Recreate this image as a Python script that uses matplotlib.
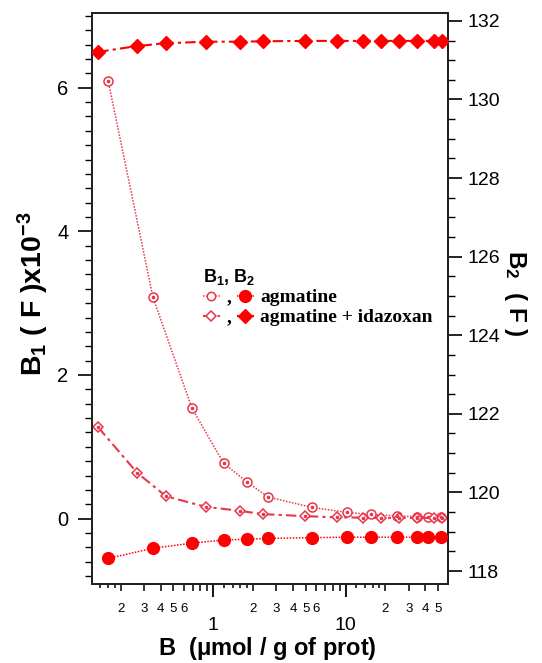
import math
import matplotlib
matplotlib.use("Agg")
import matplotlib.pyplot as plt
from matplotlib.ticker import FixedLocator, FuncFormatter, MultipleLocator
from matplotlib.lines import Line2D
from matplotlib.font_manager import FontProperties

# ---------------- data ----------------
x_agm = [0.16, 0.35, 0.69, 1.2, 1.8, 2.6, 5.6, 10.3, 15.7, 24.3, 34.5, 42.3, 52.4]
b1_agm = [6.10, 3.08, 1.535, 0.77, 0.51, 0.30, 0.156, 0.086, 0.058, 0.040, 0.025, 0.020, 0.017]
b2_agm = [118.32, 118.58, 118.71, 118.79, 118.81, 118.83, 118.85, 118.86, 118.86,
          118.86, 118.86, 118.86, 118.86]

x_ida = [0.135, 0.265, 0.44, 0.88, 1.58, 2.36, 4.9, 8.65, 13.5, 18.4, 25.4, 34.9, 46.7, 54.0]
b1_ida = [1.27, 0.64, 0.31, 0.164, 0.109, 0.063, 0.035, 0.017, 0.015, 0.012, 0.010,
          0.010, 0.010, 0.010]
b2_ida = [131.21, 131.36, 131.43, 131.47, 131.47, 131.48, 131.49, 131.49, 131.49,
          131.49, 131.49, 131.49, 131.49, 131.49]

x_major = [1, 10]
x_minor_labelled = [0.2, 0.3, 0.4, 0.5, 0.6, 2, 3, 4, 5, 6, 20, 30, 40, 50]
x_minor = [0.2, 0.3, 0.4, 0.5, 0.6, 0.7, 0.8, 0.9, 2, 3, 4, 5, 6, 7, 8, 9, 20, 30, 40, 50]
x_subminor = [0.14, 0.16, 0.18, 1.2, 1.4, 1.6, 1.8, 12, 14, 16, 18]

label_agm = "agmatine"
label_ida = "agmatine + idazoxan"

# ---------------- style ----------------
sans = "Liberation Sans"
plt.rcParams["font.family"] = [sans, "DejaVu Sans"]
plt.rcParams["mathtext.fontset"] = "custom"
plt.rcParams["mathtext.rm"] = sans
plt.rcParams["mathtext.bf"] = sans + ":bold"
plt.rcParams["mathtext.it"] = sans + ":italic"

RED = "#ff0000"
OPEN = "#e8364a"
dotted = (0, (1.0, 1.0))
dashdot = (0, (5, 2, 1.5, 2))

fig = plt.figure(figsize=(5.42, 6.63), dpi=100)
W, H = 542, 663
L, R, T, B = 92, 448, 13, 584
ax = fig.add_axes([L / W, 1 - B / H, (R - L) / W, (B - T) / H])
ax2 = ax.twinx()

# B1 (left axis)
ax.plot(x_agm, b1_agm, linestyle=dotted, lw=1.1, color=OPEN, marker="o", ms=6.5,
        mfc="white", mec=OPEN, mew=1.1, zorder=3)
ax.plot(x_agm, b1_agm, linestyle="none", marker="o", ms=1.6, color=OPEN, zorder=4)
ax.plot(x_ida, b1_ida, linestyle=dashdot, lw=1.5, color=OPEN, marker="D", ms=5.5,
        mfc="white", mec=OPEN, mew=1.1, zorder=3)
ax.plot(x_ida, b1_ida, linestyle="none", marker="o", ms=1.6, color=OPEN, zorder=4)

# B2 (right axis)
ax2.plot(x_agm, b2_agm, linestyle=dotted, lw=1.1, color=RED, marker="o", ms=8.5,
         mfc=RED, mec=RED, zorder=3)
ax2.plot(x_ida, b2_ida, linestyle=dashdot, lw=1.5, color=RED, marker="D", ms=7,
         mfc=RED, mec=RED, zorder=3)

# ---------------- axes ----------------
ax.set_xscale("log")
ax.set_xlim(0.121, 59.5)
ax.set_ylim(-0.91, 7.04)
ax2.set_ylim(117.67, 132.2)

for a in (ax, ax2):
    for s in a.spines.values():
        s.set_linewidth(1.4)
        s.set_color("#222222")


def minor_fmt(v, p):
    if any(abs(v - m) < 1e-9 for m in x_minor_labelled):
        return "%d" % round(v / 10 ** math.floor(math.log10(v) + 1e-9))
    return ""


ax.xaxis.set_major_locator(FixedLocator(x_major))
ax.xaxis.set_major_formatter(FuncFormatter(lambda v, p: "%g" % v))
ax.xaxis.set_minor_locator(FixedLocator(x_minor + x_subminor))
ax.xaxis.set_minor_formatter(FuncFormatter(minor_fmt))

ax.yaxis.set_major_locator(FixedLocator([0, 2, 4, 6]))
ax.yaxis.set_minor_locator(MultipleLocator(0.2))
ax2.yaxis.set_major_locator(MultipleLocator(2))
ax2.yaxis.set_minor_locator(MultipleLocator(0.5))

ax.tick_params(axis="x", which="major", direction="out", length=9, width=1.3,
               labelsize=14, pad=15, top=False)
ax.tick_params(axis="x", which="minor", direction="out", length=5, width=1.1,
               labelsize=9.5, pad=9, top=False)
ax.tick_params(axis="y", which="major", direction="out", length=10, width=1.2,
               labelsize=14.5, pad=7, right=False)
ax.tick_params(axis="y", which="minor", direction="out", length=5, width=1.0, right=False)
ax2.tick_params(axis="y", which="major", direction="out", length=10, width=1.2,
                labelsize=14, pad=4)
ax2.tick_params(axis="y", which="minor", direction="out", length=5, width=1.0)

fig.canvas.draw()
for t, loc in zip(ax.xaxis.get_minor_ticks(), ax.xaxis.get_minorticklocs()):
    if any(abs(loc - s) < 1e-9 for s in x_subminor):
        t.tick1line.set_markersize(3)

# labels
ax.set_xlabel(r"$\mathbf{B}$  ($\mathbf{\mu}$mol / g of prot)", fontsize=17,
              fontweight="bold", va="center")
ax.xaxis.set_label_coords(0.494, -0.113)
ax.set_ylabel(r"$\mathbf{B_{1}}$ ( F )x10$^{\mathbf{-3}}$", fontsize=20.5,
              fontweight="bold", va="center")
ax.yaxis.set_label_coords(-0.166, 0.508)
ax2.set_ylabel(r"$\mathbf{B_{2}}$  ( F )", fontsize=17.5, fontweight="bold",
               rotation=270, va="center")
ax2.yaxis.set_label_coords(1.19, 0.51)

# ---------------- legend ----------------
h_open_c = Line2D([], [], linestyle=dotted, lw=1.1, color=OPEN, marker="o", ms=6,
                  mfc="white", mec=OPEN, mew=1.1)
h_open_d = Line2D([], [], linestyle=dashdot, lw=1.5, color=OPEN, marker="D", ms=5.5,
                  mfc="white", mec=OPEN, mew=1.1)
h_fill_c = Line2D([], [], linestyle=dotted, lw=1.1, color=RED, marker="o", ms=8.5,
                  mfc=RED, mec=RED)
h_fill_d = Line2D([], [], linestyle=dashdot, lw=1.5, color=RED, marker="D", ms=7,
                  mfc=RED, mec=RED)
serif_bold = FontProperties(family="Liberation Serif", weight="bold", size=14)
leg = ax2.legend([h_open_c, h_open_d, h_fill_c, h_fill_d],
                 [",", ",", label_agm, label_ida],
                 ncol=2, loc="upper left", bbox_to_anchor=(0.312, 0.556),
                 frameon=False, prop=serif_bold, handlelength=0.85,
                 handletextpad=0.35, columnspacing=0.3, labelspacing=0.12,
                 borderpad=0, borderaxespad=0, numpoints=1,
                 title=r"$\mathbf{B_{1}}$, $\mathbf{B_{2}}$",
                 title_fontproperties=FontProperties(family=sans, weight="bold", size=13),
                 alignment="left")

fig.savefig("out.png", dpi=100)
